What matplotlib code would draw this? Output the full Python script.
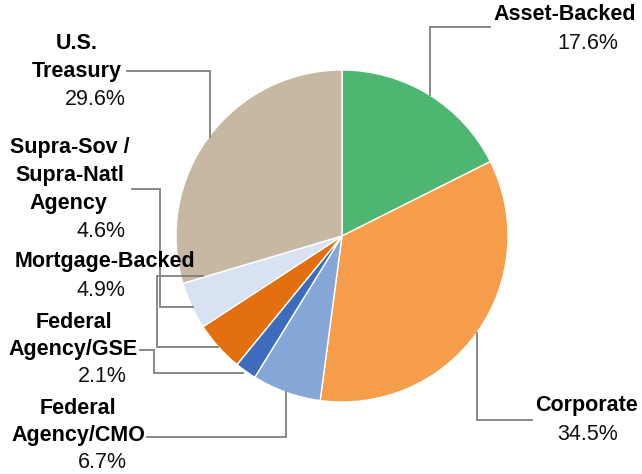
import matplotlib
matplotlib.use("Agg")
from matplotlib import pyplot as plt

categories = ["Asset-Backed", "Corporate", "Federal\nAgency/CMO", "Federal\nAgency/GSE",
              "Mortgage-Backed", "Supra-Sov /\nSupra-Natl\nAgency", "U.S.\nTreasury"]
shares = [17.6, 34.5, 6.7, 2.1, 4.9, 4.6, 29.6]
colors = ["#4DB670", "#F59D4A", "#85A7D8", "#3D6CBC", "#E2700F", "#D9E2F2", "#C7B8A3"]

W, H = 642, 474
fig = plt.figure(figsize=(W / 100, H / 100), dpi=100)
ax = fig.add_axes([0, 0, 1, 1])

ax.pie(shares, colors=colors, startangle=90, counterclock=False,
       center=(342, H - 236), radius=166, frame=True,
       wedgeprops=dict(edgecolor="white", linewidth=1))
ax.set_xlim(0, W)
ax.set_ylim(0, H)
ax.set_aspect("equal")
ax.axis("off")

# label layout in pixel coords (top-left origin): name line centres, pct centre, leader
layout = [
    ([(565, 14)], (588, 43), [(490, 27), (430, 27), (430, 95)]),
    ([(586, 406)], (588, 434), [(532, 420), (477, 420), (477, 333)]),
    ([(78, 408), (78, 436)], (102, 463), [(147, 437), (286, 437), (286, 392)]),
    ([(74, 322), (73, 350)], (102, 377), [(140, 350), (154, 350), (154, 373), (243, 373)]),
    ([(105, 262)], (101, 291), [(203, 276), (157, 276), (157, 347), (218, 347)]),
    ([(70, 147), (70, 175), (68, 203)], (101, 231), [(132, 189), (160, 189), (160, 307), (193, 307)]),
    ([(77, 43), (77, 71)], (95, 99), [(127, 71), (210, 71), (210, 137)]),
]

font = ["Liberation Sans", "DejaVu Sans"]
for name, pct, (lines, ppos, leader) in zip(categories, shares, layout):
    for txt, (x, y) in zip(name.split("\n"), lines):
        ax.text(x, H - y, txt, ha="center", va="center", fontsize=15.5,
                fontweight="bold", family=font, color="black")
    ax.text(ppos[0], H - ppos[1], f"{pct:.1f}%", ha="center", va="center",
            fontsize=15.5, family=font, color="#111111")
    xs = [p[0] for p in leader]
    ys = [H - p[1] for p in leader]
    ax.plot(xs, ys, color="#7F7F7F", linewidth=1.3, solid_joinstyle="miter")

fig.savefig("out.png", dpi=100)
